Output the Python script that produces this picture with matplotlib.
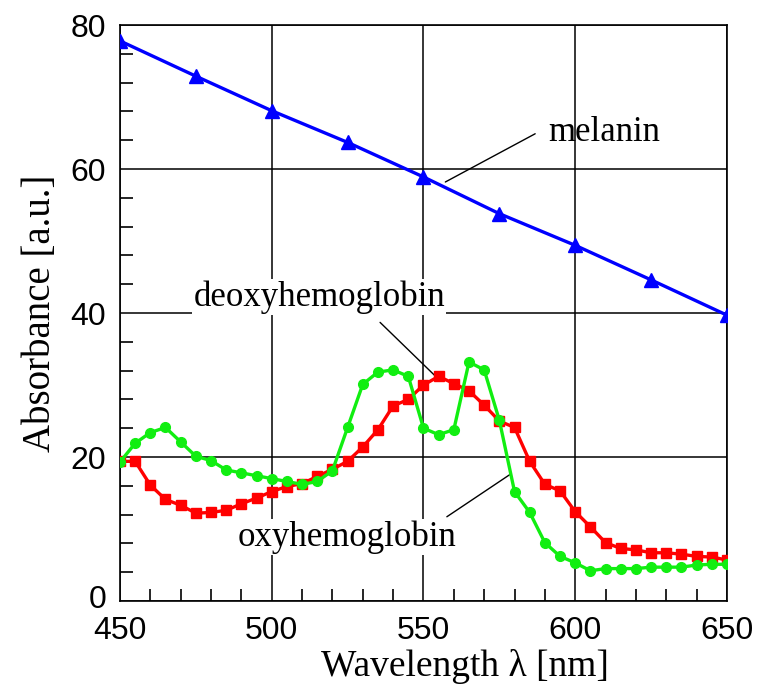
import numpy as np
import matplotlib
matplotlib.use("Agg")
import matplotlib.pyplot as plt
import matplotlib.transforms as mtransforms
from matplotlib.ticker import MultipleLocator

# wavelength grid (nm)
wl = list(range(450, 655, 5))

deoxy = [19.4, 19.4, 16.1, 14.1, 13.3, 12.2, 12.3, 12.6, 13.5, 14.3,
         15.2, 15.9, 16.3, 17.3, 18.3, 19.4, 21.4, 23.8, 27.1, 28.0,
         30.0, 31.2, 30.2, 29.2, 27.2, 25.0, 24.1, 19.4, 16.2, 15.3,
         12.4, 10.3, 8.1, 7.3, 7.1, 6.7, 6.7, 6.5, 6.2, 6.1, 5.7]

oxy = [19.3, 21.9, 23.4, 24.1, 22.1, 20.1, 19.5, 18.2, 17.8, 17.4,
       17.0, 16.6, 16.2, 16.6, 18.1, 24.1, 30.1, 31.8, 32.1, 31.2,
       24.0, 23.1, 23.8, 33.2, 32.1, 25.1, 15.2, 12.3, 8.1, 6.2,
       5.3, 4.2, 4.5, 4.5, 4.5, 4.7, 4.7, 4.7, 5.0, 5.1, 5.1]

mel_wl = [450, 475, 500, 525, 550, 575, 600, 625, 650]
melanin = [77.8, 72.9, 68.1, 63.7, 58.9, 53.8, 49.4, 44.6, 39.7]

serif = "Liberation Serif"
sans = "Liberation Sans"

fig = plt.figure(figsize=(7.72, 6.96), dpi=100)
ax = fig.add_axes([0.1554, 0.1365, 0.7863, 0.8275])

ax.plot(mel_wl, melanin, color="#0000ff", lw=2.4, marker="^", ms=10, zorder=4)
ax.plot(wl, deoxy, color="#ff0000", lw=2.4, marker="s", ms=7, zorder=4)
ax.plot(wl, oxy, color="#11ee11", lw=2.4, marker="o", ms=7, zorder=5)

ax.set_xlim(450, 650)
ax.set_ylim(0, 80)
ax.set_xticks([450, 500, 550, 600, 650])
ax.set_yticks([0, 20, 40, 60, 80])
ax.xaxis.set_minor_locator(MultipleLocator(10))
ax.yaxis.set_minor_locator(MultipleLocator(4))
ax.tick_params(which="both", direction="in", top=False, right=False, width=1.2)
ax.tick_params(which="major", length=0)
ax.tick_params(axis="x", which="major", pad=11)
ax.tick_params(axis="y", which="major", pad=10)
ax.tick_params(which="minor", length=9)
for lab in ax.get_xticklabels() + ax.get_yticklabels():
    lab.set_fontfamily(sans)
    lab.set_fontsize(23)

# nudge the "0" up a little so it doesn't collide with "450"
ylabs = ax.get_yticklabels()
ylabs[0].set_transform(ylabs[0].get_transform() +
                       mtransforms.ScaledTranslation(0, 3 / 72, fig.dpi_scale_trans))

ax.grid(True, which="major", color="black", lw=1.1, zorder=1)
for s in ax.spines.values():
    s.set_linewidth(1.2)

ax.set_xlabel("Wavelength λ [nm]", fontfamily=serif, fontsize=27)
ax.xaxis.set_label_coords(0.568, -0.083)
ax.set_ylabel("Absorbance [a.u.]", fontfamily=serif, fontsize=28)
ax.yaxis.set_label_coords(-0.1, 0.5)

box = dict(facecolor="white", edgecolor="none", pad=1)
line = dict(arrowstyle="-", color="black", lw=1, shrinkA=0, shrinkB=0)

ax.text(609.6, 65.1, "melanin", fontfamily=serif, fontsize=25,
        ha="center", va="center", zorder=6)
ax.annotate("", xy=(557.2, 58.2), xytext=(586.8, 64.9), arrowprops=line)

ax.text(515.6, 42.2, "deoxyhemoglobin", fontfamily=serif, fontsize=25,
        ha="center", va="center", bbox=box, zorder=6)
ax.annotate("", xy=(554.5, 31.0), xytext=(535.7, 38.7), arrowprops=line)

ax.text(524.8, 8.9, "oxyhemoglobin", fontfamily=serif, fontsize=25,
        ha="center", va="center", bbox=box, zorder=6)
ax.annotate("", xy=(578.6, 17.6), xytext=(557.7, 11.7), arrowprops=line)

fig.savefig("out.png", dpi=100)
